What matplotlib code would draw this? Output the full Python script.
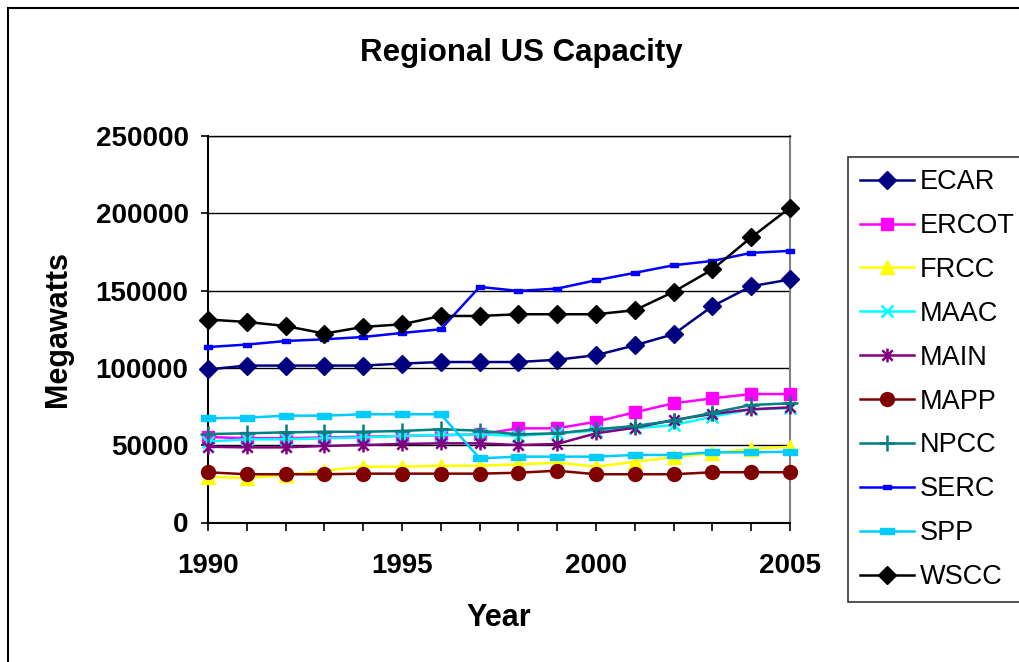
import matplotlib
matplotlib.use("Agg")
import matplotlib.pyplot as plt
from matplotlib.path import Path
from matplotlib.patches import Rectangle
from matplotlib.ticker import MultipleLocator

plt.rcParams['font.family'] = ['Liberation Sans', 'DejaVu Sans']

years = list(range(1990, 2006))

ecar = [99000, 101500, 101500, 101500, 101500, 102800, 103800, 103800,
        103800, 105300, 108200, 114600, 121800, 139900, 152800, 157200]
ercot = [55300, 54500, 54500, 55000, 55500, 56000, 56500, 57000,
         60900, 60900, 65200, 71300, 77100, 80300, 83100, 83100]
frcc = [29500, 28800, 30700, 33500, 36100, 36100, 36700, 36700,
        37600, 38700, 36100, 39300, 42200, 44800, 47500, 49000]
maac = [52300, 53800, 53800, 54500, 55100, 56000, 56600, 57000,
        56000, 57700, 59400, 60900, 63000, 68400, 73200, 73900]
main = [49000, 48600, 48600, 49500, 50100, 50800, 51200, 51200,
        50100, 50800, 57700, 61300, 66300, 70200, 73200, 74500]
mapp = [32500, 31200, 31200, 31200, 31600, 31600, 31600, 31600,
        32200, 33500, 31200, 31200, 31200, 32500, 32500, 32500]
npcc = [57200, 57700, 58300, 58700, 58700, 59200, 60300, 59400,
        57000, 57700, 60300, 62400, 65900, 71000, 76000, 77100]
serc = [113500, 115100, 117400, 118500, 120000, 122600, 125000, 152400,
        149800, 151300, 156700, 161500, 166400, 169200, 174400, 175700]
spp = [67400, 67800, 69100, 69100, 70000, 70000, 70000, 41500,
       42600, 42600, 42600, 43700, 43700, 45400, 45400, 45800]
wscc = [131300, 129700, 127100, 122200, 126500, 128200, 133600, 133600,
        134700, 134700, 134700, 137300, 149200, 163700, 184400, 203600]

# custom marker shapes
dash = Path([(-1, -0.4), (1, -0.4), (1, 0.4), (-1, 0.4), (-1, -0.4)],
            [Path.MOVETO, Path.LINETO, Path.LINETO, Path.LINETO, Path.CLOSEPOLY])
asterisk = Path([(0, -1), (0, 1), (-0.75, -0.75), (0.75, 0.75),
                 (-0.75, 0.75), (0.75, -0.75)],
                [Path.MOVETO, Path.LINETO, Path.MOVETO, Path.LINETO,
                 Path.MOVETO, Path.LINETO])

series = [
    ("ECAR", ecar, "#000080", dict(marker="D", ms=9)),
    ("ERCOT", ercot, "#FF00FF", dict(marker="s", ms=8.5)),
    ("FRCC", frcc, "#FFFF00", dict(marker="^", ms=10)),
    ("MAAC", maac, "#00FFFF", dict(marker="x", ms=9, mew=1.8)),
    ("MAIN", main, "#800080", dict(marker=asterisk, ms=10, mew=1.8, mfc="none")),
    ("MAPP", mapp, "#800000", dict(marker="o", ms=10)),
    ("NPCC", npcc, "#008080", dict(marker="+", ms=12, mew=1.8)),
    ("SERC", serc, "#0000FF", dict(marker=dash, ms=6)),
    ("SPP", spp, "#00CCFF", dict(marker=dash, ms=10)),
    ("WSCC", wscc, "#000000", dict(marker="D", ms=9)),
]

fig = plt.figure(figsize=(10.2, 6.62), dpi=100)
ax = fig.add_axes([208 / 1020, 1 - 522.5 / 662, (790 - 208) / 1020, (522.5 - 136) / 662])

for name, vals, color, mk in series:
    ax.plot(years, vals, color=color, lw=1.8, label=name,
            mec=color, mfc=mk.pop("mfc", color), **mk, clip_on=False, zorder=3)

ax.set_xlim(1990, 2005)
ax.set_ylim(0, 250000)
ax.yaxis.set_major_locator(MultipleLocator(50000))
ax.xaxis.set_major_locator(MultipleLocator(5))
ax.xaxis.set_minor_locator(MultipleLocator(1))
ax.grid(axis="y", color="black", lw=1.0, zorder=1)

for side in ("left", "bottom"):
    ax.spines[side].set_color("black")
    ax.spines[side].set_linewidth(1.5)
ax.spines["right"].set_color("#808080")
ax.spines["right"].set_linewidth(1.5)
ax.spines["top"].set_color("black")
ax.spines["top"].set_linewidth(1.0)

ax.tick_params(axis="x", which="both", direction="out", length=6, width=1.2,
               pad=16, labelsize=20)
ax.tick_params(axis="y", direction="out", length=5, width=1.2, pad=9, labelsize=20)
for lbl in ax.get_xticklabels() + ax.get_yticklabels():
    lbl.set_fontweight("bold")

ax.set_xlabel("Year", fontsize=22, fontweight="bold", labelpad=17)
ax.set_ylabel("Megawatts", fontsize=22, fontweight="bold", labelpad=16)

fig.text(521 / 1020, 1 - 53 / 662, "Regional US Capacity", fontsize=22.5,
         fontweight="bold", ha="center", va="center")

leg = fig.legend(loc="upper left", bbox_to_anchor=(848 / 1020, 1 - 157 / 662),
                 borderaxespad=0, fontsize=19.5, frameon=True, fancybox=False,
                 handlelength=2.0, handletextpad=0.2, borderpad=0.45,
                 labelspacing=0.66)
leg.get_frame().set_edgecolor("black")
leg.get_frame().set_linewidth(1.2)

# outer chart border (left and top edges fall inside the image)
fig.patches.append(Rectangle((8 / 1020, -0.5), 2.0, 1 - 8 / 662 + 0.5,
                             transform=fig.transFigure, fill=False,
                             ec="black", lw=1.5))

fig.savefig("out.png", dpi=100)
